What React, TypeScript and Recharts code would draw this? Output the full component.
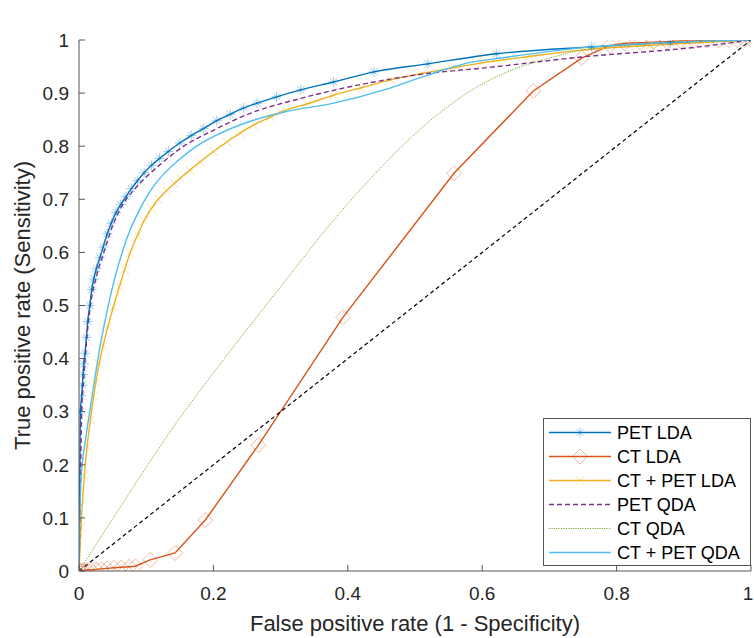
import React from 'react';
import { LineChart, Line, XAxis, YAxis, Legend, Label } from 'recharts';

// ---------- data ----------
const xTicks = [0, 0.2, 0.4, 0.6, 0.8, 1];
const yTicks = [0, 0.1, 0.2, 0.3, 0.4, 0.5, 0.6, 0.7, 0.8, 0.9, 1];

const petLda: [number, number][] = [
  [0, 0], [0.002, 0.3], [0.004, 0.33], [0.005, 0.35], [0.006, 0.37], [0.007, 0.39], [0.009, 0.41],
  [0.011, 0.44], [0.013, 0.47], [0.016, 0.5], [0.019, 0.53], [0.022, 0.55], [0.026, 0.57],
  [0.031, 0.59], [0.036, 0.61], [0.042, 0.635], [0.048, 0.655], [0.055, 0.675], [0.062, 0.69],
  [0.07, 0.705], [0.078, 0.72], [0.087, 0.735], [0.097, 0.75], [0.108, 0.764], [0.12, 0.777],
  [0.133, 0.79], [0.15, 0.806], [0.167, 0.82], [0.185, 0.833], [0.205, 0.848], [0.225, 0.86],
  [0.245, 0.872], [0.265, 0.881], [0.294, 0.893], [0.33, 0.906], [0.379, 0.921], [0.439, 0.94],
  [0.519, 0.955], [0.621, 0.974], [0.763, 0.987], [0.88, 0.995], [1, 1],
];

const ctLda: [number, number][] = [
  [0, 0], [0.002, 0], [0.004, 0.001], [0.007, 0.001], [0.012, 0.002], [0.018, 0.002], [0.025, 0.003],
  [0.033, 0.004], [0.042, 0.005], [0.052, 0.006], [0.063, 0.007], [0.075, 0.008], [0.084, 0.009],
  [0.106, 0.021], [0.143, 0.034], [0.188, 0.096], [0.267, 0.237], [0.393, 0.478], [0.558, 0.749],
  [0.676, 0.904], [0.748, 0.966], [0.79, 0.99], [0.812, 0.994], [0.835, 0.995], [0.855, 0.996],
  [0.875, 0.997], [0.895, 0.998], [0.915, 0.998], [0.935, 0.999], [0.952, 0.999], [0.967, 1],
  [0.98, 1], [0.99, 1], [1, 1],
];

const ctPetLda: [number, number][] = [
  [0, 0], [0.003, 0.083], [0.008, 0.18], [0.012, 0.234], [0.017, 0.285], [0.022, 0.33],
  [0.025, 0.355], [0.03, 0.39], [0.036, 0.425], [0.043, 0.46], [0.051, 0.497], [0.06, 0.535],
  [0.068, 0.568], [0.076, 0.599], [0.087, 0.632], [0.097, 0.66], [0.108, 0.683], [0.118, 0.7],
  [0.13, 0.716], [0.142, 0.73], [0.151, 0.74], [0.165, 0.755], [0.18, 0.77], [0.2, 0.79],
  [0.22, 0.808], [0.24, 0.825], [0.26, 0.84], [0.285, 0.855], [0.3, 0.864], [0.34, 0.88],
  [0.379, 0.896], [0.42, 0.91], [0.464, 0.925], [0.51, 0.937], [0.554, 0.947], [0.6, 0.957],
  [0.67, 0.969], [0.748, 0.981], [0.85, 0.99], [1, 1],
];

const petQda: [number, number][] = [
  [0, 0], [0.002, 0.15], [0.004, 0.3], [0.007, 0.36], [0.011, 0.43], [0.017, 0.5], [0.026, 0.555],
  [0.037, 0.6], [0.05, 0.65], [0.065, 0.69], [0.08, 0.715], [0.1, 0.742], [0.125, 0.77],
  [0.15, 0.795], [0.2, 0.83], [0.255, 0.862], [0.33, 0.89], [0.439, 0.921], [0.519, 0.937],
  [0.6, 0.947], [0.748, 0.968], [0.922, 0.987], [1, 1],
];

const ctQda: [number, number][] = [
  [0, 0], [0.05, 0.098], [0.112, 0.218], [0.151, 0.29], [0.2, 0.373], [0.25, 0.455], [0.3, 0.535],
  [0.34, 0.6], [0.375, 0.655], [0.425, 0.727], [0.475, 0.793], [0.5, 0.823], [0.53, 0.856],
  [0.56, 0.885], [0.59, 0.91], [0.62, 0.93], [0.66, 0.951], [0.7, 0.966], [0.748, 0.981],
  [0.85, 0.993], [1, 1],
];

const ctPetQda: [number, number][] = [
  [0, 0], [0.001, 0.08], [0.003, 0.17], [0.01, 0.25], [0.016, 0.3], [0.022, 0.35], [0.031, 0.42],
  [0.043, 0.497], [0.064, 0.599], [0.076, 0.642], [0.088, 0.675], [0.1, 0.703], [0.113, 0.728],
  [0.128, 0.75], [0.151, 0.777], [0.175, 0.8], [0.2, 0.818], [0.255, 0.847], [0.304, 0.864],
  [0.379, 0.881], [0.454, 0.906], [0.519, 0.934], [0.579, 0.957], [0.628, 0.966], [0.763, 0.987],
  [1, 1],
];

const chance: [number, number][] = [[0, 0], [1, 1]];

const seriesNames = ['PET LDA', 'CT LDA', 'CT + PET LDA', 'PET QDA', 'CT QDA', 'CT + PET QDA'];

// ---------- styling ----------
const FONT = '"Liberation Sans", Arial, Helvetica, sans-serif';
const AXIS = '#555555';
const TEXT = '#262626';
const W = 754;
const H = 638;
const M = { top: 40, right: 3, bottom: 27, left: 19 };
const YW = 60;
const XH = 40;
const PL = M.left + YW;
const PR = W - M.right;
const PT = M.top;
const PB = H - M.bottom - XH;

const toPts = (a: [number, number][]) => a.map(([x, y]) => ({ x, y }));

type MarkerKind = 'asterisk' | 'diamond' | 'cross' | 'none';

const Marker = ({ kind, cx, cy, color }: { kind: MarkerKind; cx: number; cy: number; color: string }) => {
  const op = 0.4;
  if (kind === 'asterisk') {
    const r = 5;
    const d = r * 0.707;
    return (
      <g stroke={color} strokeOpacity={op} strokeWidth={1} fill="none">
        <line x1={cx - r} y1={cy} x2={cx + r} y2={cy} />
        <line x1={cx} y1={cy - r} x2={cx} y2={cy + r} />
        <line x1={cx - d} y1={cy - d} x2={cx + d} y2={cy + d} />
        <line x1={cx - d} y1={cy + d} x2={cx + d} y2={cy - d} />
      </g>
    );
  }
  if (kind === 'diamond') {
    const r = 7.5;
    return (
      <path
        d={`M${cx},${cy - r}L${cx + r},${cy}L${cx},${cy + r}L${cx - r},${cy}Z`}
        stroke={color}
        strokeOpacity={op}
        strokeWidth={1}
        fill="none"
      />
    );
  }
  if (kind === 'cross') {
    const r = 4.5;
    return (
      <g stroke={color} strokeOpacity={op} strokeWidth={1} fill="none">
        <line x1={cx - r} y1={cy - r} x2={cx + r} y2={cy + r} />
        <line x1={cx - r} y1={cy + r} x2={cx + r} y2={cy - r} />
      </g>
    );
  }
  return null;
};

const makeDot = (kind: MarkerKind, color: string) => (p: any) => {
  const { cx, cy, index } = p;
  if (cx == null || cy == null) return <g key={`e${kind}${index}`} />;
  return (
    <g key={`${kind}${index}`}>
      <Marker kind={kind} cx={cx} cy={cy} color={color} />
    </g>
  );
};

type Series = {
  name: string;
  data: [number, number][];
  color: string;
  width: number;
  dash?: string;
  marker: MarkerKind;
  curve: 'monotone' | 'linear';
};

const series: Series[] = [
  { name: seriesNames[0], data: petLda, color: '#0072BD', width: 1.4, marker: 'asterisk', curve: 'monotone' },
  { name: seriesNames[1], data: ctLda, color: '#D95319', width: 1.4, marker: 'diamond', curve: 'linear' },
  { name: seriesNames[2], data: ctPetLda, color: '#EDB120', width: 1.4, marker: 'cross', curve: 'monotone' },
  { name: seriesNames[3], data: petQda, color: '#7E2F8E', width: 1.4, dash: '5 3', marker: 'none', curve: 'monotone' },
  { name: seriesNames[4], data: ctQda, color: '#77AC30', width: 1, dash: '1.2 1.2', marker: 'none', curve: 'monotone' },
  { name: seriesNames[5], data: ctPetQda, color: '#4DBEEE', width: 1.4, marker: 'none', curve: 'monotone' },
];

const LegendBox = () => (
  <svg width={208} height={148} style={{ display: 'block' }}>
    <rect x={0.5} y={0.5} width={207} height={147} fill="#ffffff" stroke={AXIS} strokeWidth={1} />
    {series.map((s, i) => {
      const cy = 14.5 + i * 24;
      return (
        <g key={s.name}>
          <line x1={6} x2={68} y1={cy} y2={cy} stroke={s.color} strokeWidth={s.width} strokeDasharray={s.dash} />
          <Marker kind={s.marker} cx={37} cy={cy} color={s.color} />
          <text x={74} y={cy + 6.5} fontFamily={FONT} fontSize={18} fill="#000">
            {s.name}
          </text>
        </g>
      );
    })}
  </svg>
);

const tickStyle = { fill: TEXT, fontSize: 19, fontFamily: FONT };

const XTick = (p: any) => {
  const v = p.payload?.value;
  const shift = v === 1 ? -3 : 0;
  return (
    <text x={p.x + shift} y={p.y} dy="0.71em" textAnchor="middle" fontFamily={FONT} fontSize={19} fill={TEXT}>
      {String(v)}
    </text>
  );
};

export default function App() {
  return (
    <div style={{ position: 'absolute', left: 0, top: 0, width: W, height: H, background: '#fff' }}>
      <LineChart width={W} height={H} margin={M}>
        <XAxis
          xAxisId="b"
          type="number"
          dataKey="x"
          domain={[0, 1]}
          allowDataOverflow
          ticks={xTicks}
          interval={0}
          tick={<XTick />}
          tickSize={-6}
          tickMargin={22}
          height={XH}
          stroke={AXIS}
          label={
            <Label
              content={() => (
                <text x={(PL + PR) / 2} y={PB + 60} textAnchor="middle" fontFamily={FONT} fontSize={22} fill={TEXT}>
                  False positive rate (1 - Specificity)
                </text>
              )}
            />
          }
        />
        <XAxis
          xAxisId="t"
          orientation="top"
          type="number"
          domain={[0, 1]}
          allowDataOverflow
          ticks={xTicks}
          interval={0}
          tick={false}
          tickSize={-6}
          height={0}
          stroke={AXIS}
          label={
            <Label
              content={() => (
                <text x={(PL + PR) / 2} y={PT - 7} textAnchor="middle" fontFamily={FONT} fontSize={21} fontWeight="bold" fill="#000">
                  AUC
                </text>
              )}
            />
          }
        />
        <YAxis
          yAxisId="l"
          type="number"
          domain={[0, 1]}
          allowDataOverflow
          ticks={yTicks}
          interval={0}
          tickFormatter={(v: number) => String(v)}
          tick={tickStyle}
          tickSize={-6}
          tickMargin={16}
          width={YW}
          stroke={AXIS}
          label={
            <Label
              content={() => (
                <text
                  x={30}
                  y={(PT + PB) / 2}
                  transform={`rotate(-90 30 ${(PT + PB) / 2})`}
                  textAnchor="middle"
                  fontFamily={FONT}
                  fontSize={22}
                  fill={TEXT}
                >
                  True positive rate (Sensitivity)
                </text>
              )}
            />
          }
        />
        <YAxis
          yAxisId="r"
          orientation="right"
          type="number"
          domain={[0, 1]}
          allowDataOverflow
          ticks={yTicks}
          interval={0}
          tick={false}
          tickSize={-6}
          width={0}
          stroke={AXIS}
        />
        {series.map((s) => (
          <Line
            key={s.name}
            xAxisId="b"
            yAxisId="l"
            name={s.name}
            data={toPts(s.data)}
            dataKey="y"
            type={s.curve}
            stroke={s.color}
            strokeWidth={s.width}
            strokeDasharray={s.dash}
            dot={s.marker === 'none' ? false : makeDot(s.marker, s.color)}
            activeDot={false}
            isAnimationActive={false}
            legendType="line"
          />
        ))}
        <Line
          xAxisId="b"
          yAxisId="l"
          name="chance"
          data={toPts(chance)}
          dataKey="y"
          type="linear"
          stroke="#000"
          strokeWidth={1.2}
          strokeDasharray="4 3"
          dot={false}
          activeDot={false}
          isAnimationActive={false}
          legendType="none"
        />
        <Legend
          layout="vertical"
          align="center"
          verticalAlign="middle"
          wrapperStyle={{ position: 'absolute', left: 543, top: 418, width: 208, height: 148, margin: 0, padding: 0 }}
          content={() => <LegendBox />}
        />
      </LineChart>
    </div>
  );
}
